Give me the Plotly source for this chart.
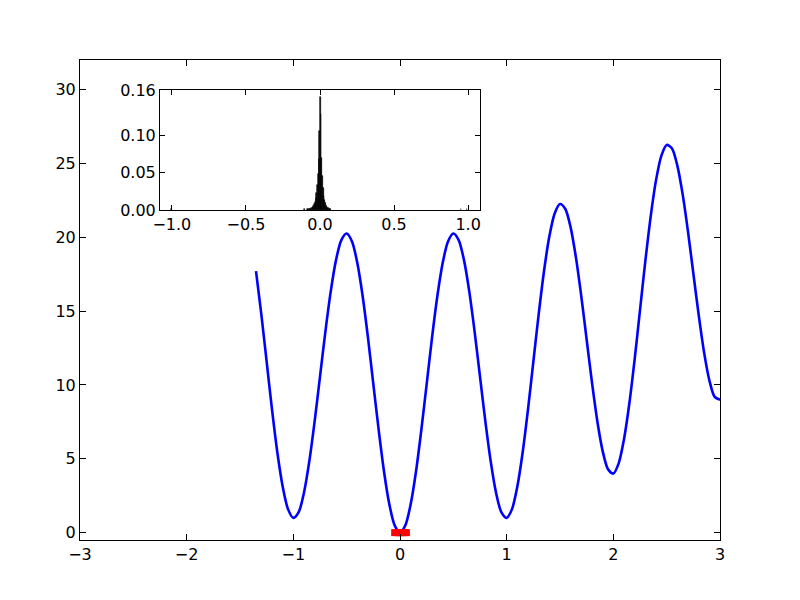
import plotly.graph_objects as go

# main curve
curve_x = [-1.35, -1.3, -1.25, -1.2, -1.15, -1.1, -1.05, -1.0, -0.95, -0.9, -0.85, -0.8, -0.75, -0.7,
           -0.65, -0.6, -0.55, -0.5, -0.45, -0.4, -0.35, -0.3, -0.25, -0.2, -0.15, -0.1, -0.05,
           0.0, 0.05, 0.1, 0.15, 0.2, 0.25, 0.3, 0.35, 0.4, 0.45, 0.5, 0.55, 0.6, 0.65, 0.7, 0.75,
           0.8, 0.85, 0.9, 0.95, 1.0, 1.05, 1.1, 1.15, 1.2, 1.25, 1.3, 1.35, 1.4, 1.45, 1.5, 1.55,
           1.6, 1.65, 1.7, 1.75, 1.8, 1.85, 1.9, 1.95, 2.0, 2.05, 2.1, 2.15, 2.2, 2.25, 2.3, 2.35,
           2.4, 2.45, 2.5, 2.55, 2.6, 2.65, 2.7, 2.75, 2.8, 2.85, 2.9, 2.95, 3.0]
curve_y = [17.7, 14.78, 11.56, 8.35, 5.44, 3.12, 1.59, 1.0, 1.39, 2.72, 4.84, 7.55, 10.56, 13.58,
           16.3, 18.45, 19.81, 20.25, 19.71, 18.25, 16.0, 13.18, 10.06, 6.95, 4.14, 1.92, 0.49,
           0.0, 0.49, 1.92, 4.14, 6.95, 10.06, 13.18, 16.0, 18.25, 19.71, 20.25, 19.81, 18.45, 16.3, 13.58, 10.56,
           7.55, 4.84, 2.72, 1.39, 1.0, 1.59, 3.12, 5.44, 8.35, 11.56, 14.78, 17.7, 20.05, 21.61, 22.25, 21.91,
           20.65, 18.6, 15.98, 13.06, 10.15, 7.54, 5.52, 4.29, 4.0, 4.69, 6.32, 8.74, 11.75, 15.06, 18.38, 21.4,
           23.85, 25.51, 26.25, 26.01, 24.85, 22.9, 20.38, 17.56, 14.75, 12.24, 10.32, 9.19, 9.0]

# red samples sitting at the minimum
best_x = [-0.05, -0.03, -0.01, 0.0, 0.02, 0.04, 0.06]
best_y = [0, 0, 0, 0, 0, 0, 0]

# inset histogram (bin centres / heights)
hist_x = [-1.0025, -0.1025, -0.0825, -0.0775, -0.0725, -0.0675, -0.0625, -0.0575, -0.0525, -0.0475,
          -0.0425, -0.0375, -0.0325, -0.0275, -0.0225, -0.0175, -0.0125, -0.0075, -0.0025,
          0.0025, 0.0075, 0.0125, 0.0175, 0.0225, 0.0275, 0.0325, 0.0375, 0.0425, 0.0475,
          0.0525, 0.0575, 0.0625, 0.0675, 0.0725, 0.9525, 0.9925]
hist_y = [0.002, 0.001, 0.001, 0.001, 0.002, 0.002, 0.002, 0.003, 0.003, 0.004,
          0.006, 0.008, 0.011, 0.016, 0.023, 0.033, 0.048, 0.068, 0.105,
          0.151, 0.128, 0.07, 0.045, 0.03, 0.019, 0.013, 0.009, 0.006, 0.004,
          0.003, 0.003, 0.002, 0.002, 0.001, 0.002, 0.002]

font = dict(family="DejaVu Sans", size=16, color="black")

fig = go.Figure()
fig.add_trace(go.Scatter(x=curve_x, y=curve_y, mode="lines",
                         line=dict(color="blue", width=2.6, shape="spline", smoothing=0.8),
                         xaxis="x", yaxis="y", showlegend=False))
fig.add_trace(go.Scatter(x=best_x, y=best_y, mode="markers",
                         marker=dict(symbol="square", size=7, color="red", line=dict(width=0)),
                         xaxis="x", yaxis="y", showlegend=False))
fig.add_trace(go.Bar(x=hist_x, y=hist_y, width=0.005,
                     marker=dict(color="black", line=dict(width=0.6, color="black")),
                     xaxis="x2", yaxis="y2", showlegend=False))

axis_common = dict(showgrid=False, zeroline=False, showline=True, linecolor="black", linewidth=1,
                   mirror="allticks", ticks="inside", tickcolor="black", tickfont=font,
                   automargin=False)

# page body adds an 8px offset, so margins are shifted to keep the axes at 80..720 / 60..540
fig.update_layout(
    width=800, height=600,
    margin=dict(l=72, r=88, t=52, b=68),
    paper_bgcolor="white", plot_bgcolor="white",
    font=font,
    bargap=0,
    xaxis=dict(domain=[0, 1], range=[-3, 3], tickvals=[-3, -2, -1, 0, 1, 2, 3],
               ticktext=["\u22123", "\u22122", "\u22121", "0", "1", "2", "3"], ticklen=6, anchor="y",
               **axis_common),
    yaxis=dict(domain=[0, 1], range=[-0.5, 32], tickvals=[0, 5, 10, 15, 20, 25, 30], ticklen=6,
               anchor="x", **axis_common),
    xaxis2=dict(domain=[0.125, 0.625], range=[-1.08, 1.08], tickvals=[-1.0, -0.5, 0.0, 0.5, 1.0],
                ticktext=["\u22121.0", "\u22120.5", "0.0", "0.5", "1.0"], ticklen=5, anchor="y2",
                **axis_common),
    yaxis2=dict(domain=[0.6875, 0.9375], range=[0, 0.16], tickvals=[0, 0.05, 0.10, 0.16],
                ticktext=["0.00", "0.05", "0.10", "0.16"], ticklen=5, anchor="x2", **axis_common),
)

fig.write_html("out.html")
